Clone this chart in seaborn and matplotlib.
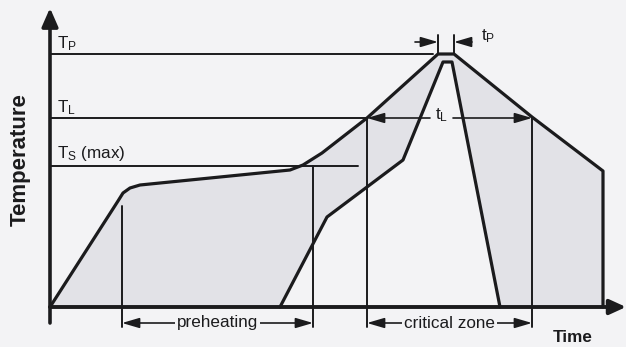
import matplotlib
matplotlib.use("Agg")
import matplotlib.pyplot as plt
from matplotlib import font_manager
import pandas as pd
import seaborn as sns

# Reflow profile: outer (oven/upper) curve and inner (component) curve
outer_time = [0, 68, 73, 80, 90, 240, 253, 272, 317, 388, 404, 482, 553, 553]
outer_temp = [0, 106, 114, 119, 122, 137, 142, 154, 189, 253, 253, 190, 136, 0]
inner_time = [230, 277, 353, 393, 402, 450]
inner_temp = [0, 90, 147, 245, 245, 0]

# Temperature levels
level_labels = [r"$\mathregular{T_P}$", r"$\mathregular{T_L}$", r"$\mathregular{T_S}$ (max)"]
level_temps = [253, 189, 141]

# Time marks
preheat_span = [72, 263]
critical_span = [317, 482]
peak_span = [388, 404]

bracket_labels = ["preheating", "critical zone"]

sns.set_theme(style="white")
names = {f.name for f in font_manager.fontManager.ttflist}
if "Liberation Sans Narrow" in names:
    family, k = "Liberation Sans Narrow", 1.0
else:
    family, k = "Liberation Sans", 0.82
plt.rcParams["font.family"] = [family, "DejaVu Sans"]

bg = "#f3f3f5"
ink = "#1b1b1d"
shade = "#e2e2e7"
plt.rcParams["hatch.color"] = "#b9b9c0"
plt.rcParams["hatch.linewidth"] = 0.6

fig = plt.figure(figsize=(6.26, 3.47), dpi=100, facecolor=bg)
ax = fig.add_axes([0, 0, 1, 1])
ax.set_facecolor(bg)
ax.set_xlim(-50, 576)
ax.set_ylim(-40, 307)
ax.axis("off")

profile = pd.DataFrame({
    "time": outer_time + inner_time,
    "temp": outer_temp + inner_temp,
    "curve": ["outer"] * len(outer_time) + ["inner"] * len(inner_time),
})

# shaded area: under the outer curve, outside the inner curve
ax.fill(outer_time, outer_temp, facecolor=shade, edgecolor="none", hatch="....", zorder=1)
ax.fill(inner_time, inner_temp, facecolor=bg, edgecolor="none", zorder=1.5)

sns.lineplot(data=profile, x="time", y="temp", hue="curve", units="curve",
             estimator=None, sort=False, palette={"outer": ink, "inner": ink},
             lw=2.3, legend=False, ax=ax, zorder=4)

# level lines and labels
level_ends = [383, 317, 308]
for lab, t, end in zip(level_labels, level_temps, level_ends):
    ax.plot([0, end], [t, t], color=ink, lw=1.4, zorder=3)
level_label_y = [259, 195, 149]
for lab, y in zip(level_labels, level_label_y):
    ax.text(7, y, lab, fontsize=15 * k, color=ink, va="baseline", ha="left")

# vertical guide lines
low = -20
ax.plot([preheat_span[0]] * 2, [101, low], color=ink, lw=1.4, zorder=3)
ax.plot([preheat_span[1]] * 2, [level_temps[2], low], color=ink, lw=1.4, zorder=3)
for t in critical_span:
    ax.plot([t, t], [level_temps[1], low], color=ink, lw=1.4, zorder=3)
for t in peak_span:
    ax.plot([t, t], [level_temps[0], 272], color=ink, lw=1.4, zorder=3)

arrow_kw = dict(arrowstyle="-|>,head_length=0.75,head_width=0.22", color=ink, lw=1.2,
                mutation_scale=14, shrinkA=0, shrinkB=0)

def bracket(x0, x1, y, label):
    ax.annotate("", xy=(x0, y), xytext=(x1, y), arrowprops=dict(
        arrowstyle="<|-|>,head_length=0.75,head_width=0.22", color=ink, lw=1.2,
        mutation_scale=14, shrinkA=0, shrinkB=0), zorder=3)
    ax.text((x0 + x1) / 2, y, label, fontsize=15 * k, color=ink, ha="center", va="center",
            bbox=dict(boxstyle="square,pad=0.12", fc=bg, ec="none"), zorder=5)

bracket(preheat_span[0], preheat_span[1], -16, bracket_labels[0])
bracket(critical_span[0], critical_span[1], -16, bracket_labels[1])

# t_L arrows
yl = level_temps[1]
ax.annotate("", xy=(critical_span[0], yl), xytext=(380, yl), arrowprops=arrow_kw, zorder=3)
ax.annotate("", xy=(critical_span[1], yl), xytext=(403, yl), arrowprops=arrow_kw, zorder=3)
ax.text(392, yl - 1, r"$\mathregular{t_L}$", fontsize=15 * k, color=ink, ha="center", va="baseline")

# t_P arrows
yp = 265
ax.annotate("", xy=(peak_span[0], yp), xytext=(365, yp), arrowprops=arrow_kw, zorder=3)
ax.annotate("", xy=(peak_span[1], yp), xytext=(422, yp), arrowprops=arrow_kw, zorder=3)
ax.text(431, 267, r"$\mathregular{t_P}$", fontsize=15 * k, color=ink, ha="left", va="baseline")

# axes with arrowheads
ax.annotate("", xy=(0, 299), xytext=(0, -16), arrowprops=dict(
    arrowstyle="-|>,head_length=0.8,head_width=0.35", color=ink, lw=2.6,
    mutation_scale=14, shrinkA=0, shrinkB=0), zorder=6)
ax.annotate("", xy=(576, 0), xytext=(0, 0), arrowprops=dict(
    arrowstyle="-|>,head_length=0.7,head_width=0.32", color=ink, lw=2.8,
    mutation_scale=14, shrinkA=0, shrinkB=0), zorder=6)

ax.text(-30, 147, "Temperature", rotation=90, fontsize=19.5 * k, fontweight="bold",
        color=ink, ha="center", va="center")
ax.text(523, -31, "Time", fontsize=15 * k, fontweight="bold", color=ink, ha="center", va="center")

fig.savefig("out.png", dpi=100, facecolor=bg)
